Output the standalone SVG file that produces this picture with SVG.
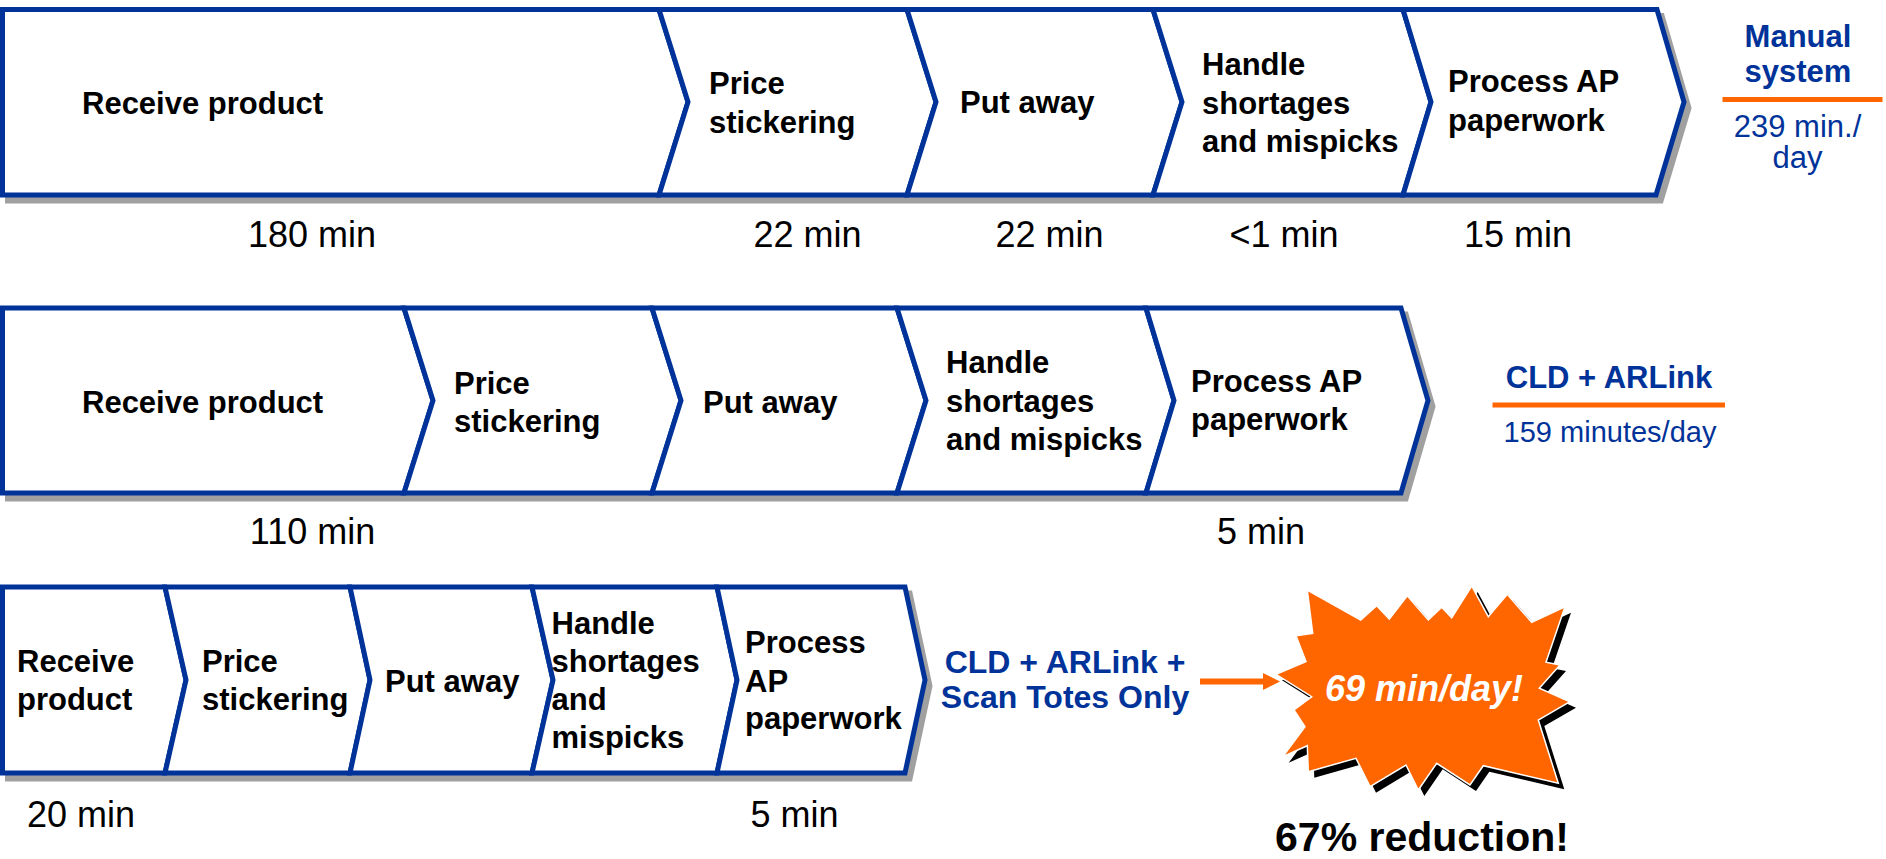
<svg xmlns="http://www.w3.org/2000/svg" width="1886" height="859" viewBox="0 0 1886 859">
<defs>
<style>
text{font-family:"Liberation Sans",Arial,sans-serif}
.node{fill:#fff;stroke:#003399;stroke-width:5;stroke-linejoin:miter}
.shadow{fill:#a0a0a0;stroke:#a0a0a0;stroke-width:5}
.lbl{font-weight:bold;font-size:31px;fill:#000}
.time{font-size:36px;fill:#000;text-anchor:middle}
.bb{font-weight:bold;font-size:31px;fill:#003399;text-anchor:middle}
.br{font-size:31px;fill:#003399;text-anchor:middle}
.rule{stroke:#ff6600;stroke-width:5}
</style>
<marker id="ah" viewBox="0 0 17 17" markerWidth="17" markerHeight="17" refX="0" refY="8.5" orient="auto" markerUnits="userSpaceOnUse">
<path d="M0,0 L17,8.5 L0,17 z" fill="#ff6600"/>
</marker>
</defs>

<!-- Row 1 -->
<polygon class="shadow" transform="translate(5,6)" points="2.5,9.5 1657,9.5 1684,102 1656,195 2.5,195"/>
<g id="r1-receive"><polygon class="node" points="2.5,9.5 659,9.5 688,102 659,195 2.5,195"/><text class="lbl" x="82" y="114">Receive product</text></g>
<g id="r1-price"><polygon class="node" points="659,9.5 907,9.5 936,102 907,195 659,195 688,102"/><text class="lbl" x="709" y="94">Price</text><text class="lbl" x="709" y="133">stickering</text></g>
<g id="r1-putaway"><polygon class="node" points="907,9.5 1153,9.5 1182,102 1153,195 907,195 936,102"/><text class="lbl" x="960" y="113">Put away</text></g>
<g id="r1-handle"><polygon class="node" points="1153,9.5 1403,9.5 1431,102 1403,195 1153,195 1182,102"/><text class="lbl" x="1202" y="75">Handle</text><text class="lbl" x="1202" y="113.5">shortages</text><text class="lbl" x="1202" y="152">and mispicks</text></g>
<g id="r1-process"><polygon class="node" points="1403,9.5 1657,9.5 1684,102 1656,195 1403,195 1431,102"/><text class="lbl" x="1448" y="92">Process AP</text><text class="lbl" x="1448" y="131">paperwork</text></g>
<g id="r1-times">
<text class="time" x="312" y="246.5">180 min</text>
<text class="time" x="807.5" y="246.5">22 min</text>
<text class="time" x="1049.5" y="246.5">22 min</text>
<text class="time" x="1284" y="246.5">&lt;1 min</text>
<text class="time" x="1518" y="246.5">15 min</text>
</g>
<g id="r1-summary">
<text class="bb" x="1798" y="47">Manual</text>
<text class="bb" x="1798" y="82">system</text>
<line class="rule" x1="1722.5" y1="99.5" x2="1882.5" y2="99.5"/>
<text class="br" x="1797.5" y="137">239 min./</text>
<text class="br" x="1797.5" y="168">day</text>
</g>

<!-- Row 2 -->
<polygon class="shadow" transform="translate(5,6)" points="2.5,308 1401,308 1428,400.5 1401,493 2.5,493"/>
<g id="r2-receive"><polygon class="node" points="2.5,308 404,308 433,400.5 404,493 2.5,493"/><text class="lbl" x="82" y="413">Receive product</text></g>
<g id="r2-price"><polygon class="node" points="404,308 652,308 681,400.5 652,493 404,493 433,400.5"/><text class="lbl" x="454" y="394">Price</text><text class="lbl" x="454" y="432">stickering</text></g>
<g id="r2-putaway"><polygon class="node" points="652,308 897,308 926,400.5 897,493 652,493 681,400.5"/><text class="lbl" x="703" y="413">Put away</text></g>
<g id="r2-handle"><polygon class="node" points="897,308 1146,308 1174,400.5 1146,493 897,493 926,400.5"/><text class="lbl" x="946" y="373">Handle</text><text class="lbl" x="946" y="412">shortages</text><text class="lbl" x="946" y="450">and mispicks</text></g>
<g id="r2-process"><polygon class="node" points="1146,308 1401,308 1428,400.5 1401,493 1146,493 1174,400.5"/><text class="lbl" x="1191" y="392">Process AP</text><text class="lbl" x="1191" y="430">paperwork</text></g>
<g id="r2-times">
<text class="time" x="312.5" y="544">110 min</text>
<text class="time" x="1261" y="544">5 min</text>
</g>
<g id="r2-summary">
<text class="bb" x="1609" y="388">CLD + ARLink</text>
<line class="rule" x1="1492.5" y1="405" x2="1725" y2="405"/>
<text class="br" x="1610" y="442" style="font-size:29px">159 minutes/day</text>
</g>

<!-- Row 3 -->
<polygon class="shadow" transform="translate(5,6)" points="2.5,587 905,587 925,680 905,773 2.5,773"/>
<g id="r3-receive"><polygon class="node" points="2.5,587 165,587 186,680 165,773 2.5,773"/><text class="lbl" x="17" y="672">Receive</text><text class="lbl" x="17" y="710">product</text></g>
<g id="r3-price"><polygon class="node" points="165,587 350,587 370,680 350,773 165,773 186,680"/><text class="lbl" x="202" y="672">Price</text><text class="lbl" x="202" y="710">stickering</text></g>
<g id="r3-putaway"><polygon class="node" points="350,587 532,587 553,680 532,773 350,773 370,680"/><text class="lbl" x="385" y="692">Put away</text></g>
<g id="r3-handle"><polygon class="node" points="532,587 717,587 737,680 717,773 532,773 553,680"/><text class="lbl" x="551.5" y="634">Handle</text><text class="lbl" x="551.5" y="672">shortages</text><text class="lbl" x="551.5" y="710">and</text><text class="lbl" x="551.5" y="748">mispicks</text></g>
<g id="r3-process"><polygon class="node" points="717,587 905,587 925,680 905,773 717,773 737,680"/><text class="lbl" x="745" y="653">Process</text><text class="lbl" x="745" y="692">AP</text><text class="lbl" x="745" y="729">paperwork</text></g>
<g id="r3-times">
<text class="time" x="81" y="827">20 min</text>
<text class="time" x="794.5" y="827">5 min</text>
</g>
<g id="r3-summary">
<text class="bb" x="1065" y="673" style="font-size:32px">CLD + ARLink +</text>
<text class="bb" x="1065" y="708" style="font-size:32px">Scan Totes Only</text>
</g>

<g id="connectors">
<line x1="1200" y1="681.5" x2="1263" y2="681.5" stroke="#ff6600" stroke-width="6" marker-end="url(#ah)"/>
</g>

<g id="burst">
<polygon transform="translate(6,6)" fill="#000" points="1307.3,590 1360.7,620 1376.7,605.7 1389.3,619 1407.3,595.7 1428.3,620 1441.7,607.3 1451.7,617.7 1471.7,586 1488.3,616.7 1507.3,594.3 1531.7,622.3 1565,606.7 1546,662.3 1560,665 1539.3,688.3 1570,701.7 1538.3,720 1558.3,783.3 1483.3,765.7 1470,785 1436.7,763.3 1418.3,790 1406,765 1370,786.7 1356,758.3 1308.3,771.7 1307.3,745.7 1282.7,756.7 1305,726.7 1294,710 1311.7,696.7 1276,674.3 1306,661.7 1296,635.7 1312.7,633.3"/>
<polygon fill="#ff6600" stroke="#fff" stroke-width="1.5" points="1307.3,590 1360.7,620 1376.7,605.7 1389.3,619 1407.3,595.7 1428.3,620 1441.7,607.3 1451.7,617.7 1471.7,586 1488.3,616.7 1507.3,594.3 1531.7,622.3 1565,606.7 1546,662.3 1560,665 1539.3,688.3 1570,701.7 1538.3,720 1558.3,783.3 1483.3,765.7 1470,785 1436.7,763.3 1418.3,790 1406,765 1370,786.7 1356,758.3 1308.3,771.7 1307.3,745.7 1282.7,756.7 1305,726.7 1294,710 1311.7,696.7 1276,674.3 1306,661.7 1296,635.7 1312.7,633.3"/>
<text x="1424" y="700.5" text-anchor="middle" font-weight="bold" font-style="italic" font-size="36" fill="#fff">69 min/day!</text>
</g>

<text x="1422" y="851" text-anchor="middle" font-weight="bold" font-size="41" fill="#000">67% reduction!</text>
</svg>
